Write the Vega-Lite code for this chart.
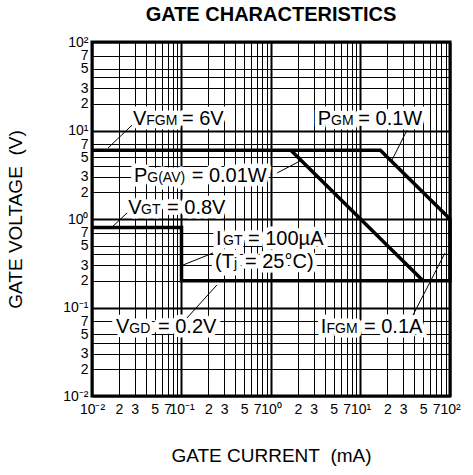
{
  "$schema": "https://vega.github.io/schema/vega-lite/v6.json",
  "width": 358,
  "height": 354,
  "autosize": "none",
  "padding": {"left": 92, "top": 42, "right": 23, "bottom": 79},
  "background": "white",
  "view": {"stroke": "black", "strokeWidth": 3},
  "config": {
    "font": "Liberation Sans",
    "axis": {
      "labelFont": "Liberation Sans",
      "labelFontSize": 14,
      "labelColor": "black",
      "titleFont": "Liberation Sans",
      "titleFontSize": 19,
      "titleFontWeight": "normal",
      "titleColor": "black",
      "domain": false,
      "ticks": false,
      "grid": true,
      "gridColor": "black",
      "gridOpacity": 1,
      "labelOverlap": false,
      "labelFlush": false
    }
  },
  "title": {
    "text": "GATE CHARACTERISTICS",
    "font": "Liberation Sans",
    "fontSize": 20,
    "fontWeight": "bold",
    "color": "black",
    "frame": "group",
    "baseline": "bottom",
    "offset": 15,
    "dy": 25,
    "anchor": "middle"
  },
  "datasets": {
    "limits": [
      {"curve": "outline", "i": 0, "I": 0.01, "V": 6},
      {"curve": "outline", "i": 1, "I": 16.667, "V": 6},
      {"curve": "outline", "i": 2, "I": 100, "V": 1},
      {"curve": "outline", "i": 3, "I": 100, "V": 0.2},
      {"curve": "outline", "i": 4, "I": 0.1, "V": 0.2},
      {"curve": "outline", "i": 5, "I": 0.1, "V": 0.8},
      {"curve": "outline", "i": 6, "I": 0.01, "V": 0.8},
      {"curve": "PG(AV)", "i": 0, "I": 1.6667, "V": 6},
      {"curve": "PG(AV)", "i": 1, "I": 50, "V": 0.2}
    ],
    "labelMain": [
      {"t": "V", "I": 0.02871, "V": 11.54},
      {"t": "= 6V", "I": 0.1013, "V": 11.54},
      {"t": "P", "I": 0.02946, "V": 2.619},
      {"t": "= 0.01W", "I": 0.13, "V": 2.619},
      {"t": "P", "I": 3.325, "V": 11.54},
      {"t": "= 0.1W", "I": 9.45, "V": 11.54},
      {"t": "V", "I": 0.02544, "V": 1.139},
      {"t": "= 0.8V", "I": 0.0689, "V": 1.139},
      {"t": "I", "I": 0.2429, "V": 0.5085},
      {"t": "= 100µA", "I": 0.5534, "V": 0.5085},
      {"t": "(T", "I": 0.2367, "V": 0.2759},
      {"t": "= 25°C)", "I": 0.5124, "V": 0.2759},
      {"t": "V", "I": 0.01854, "V": 0.05151},
      {"t": "= 0.2V", "I": 0.05463, "V": 0.05151},
      {"t": "I", "I": 3.592, "V": 0.05151},
      {"t": "= 0.1A", "I": 10.94, "V": 0.05151}
    ],
    "labelSub": [
      {"t": "FGM", "I": 0.04043, "V": 11.54},
      {"t": "G(AV)", "I": 0.04148, "V": 2.619},
      {"t": "GM", "I": 4.681, "V": 11.54},
      {"t": "GT", "I": 0.03527, "V": 1.139},
      {"t": "GT", "I": 0.2909, "V": 0.5085},
      {"t": "j", "I": 0.3861, "V": 0.2759},
      {"t": "GD", "I": 0.0261, "V": 0.05151},
      {"t": "FGM", "I": 4.17, "V": 0.05151}
    ],
    "leaders": [
      {"I": 0.028, "V": 11.5, "I2": 0.0151, "V2": 6.34},
      {"I": 1.17, "V": 3.31, "I2": 2.11, "V2": 4.52},
      {"I": 33.1, "V": 10.1, "I2": 22.5, "V2": 4.64},
      {"I": 0.0246, "V": 1.17, "I2": 0.0159, "V2": 0.77},
      {"I": 0.225, "V": 0.413, "I2": 0.104, "V2": 0.302},
      {"I": 0.115, "V": 0.076, "I2": 0.249, "V2": 0.18},
      {"I": 38.6, "V": 0.082, "I2": 87.9, "V2": 0.413}
    ]
  },
  "layer": [
    {
      "data": {"name": "limits"},
      "mark": {"type": "line", "color": "black", "strokeWidth": 3.5, "strokeJoin": "miter", "strokeCap": "butt"},
      "encoding": {
        "x": {
          "field": "I", "type": "quantitative",
          "scale": {"type": "log", "domain": [0.01, 100], "nice": false},
          "axis": {
            "title": "GATE CURRENT\u00a0 (mA)",
            "titlePadding": 30,
            "labelPadding": 6,
            "labelAlign": "center",
            "values": [0.01,0.02,0.03,0.04,0.05,0.06,0.07,0.08,0.09,0.1,0.2,0.3,0.4,0.5,0.6,0.7,0.8,0.9,1,2,3,4,5,6,7,8,9,10,20,30,40,50,60,70,80,90,100],
            "gridWidth": {"condition": {"test": "abs(log(datum.value)/LN10 - round(log(datum.value)/LN10)) < 0.001", "value": 2}, "value": 1},
            "labelExpr": "round(datum.value/pow(10,floor(log(datum.value)/LN10+0.0001)))==1 ? ('10' + ['⁻²','⁻¹','⁰','¹','²'][floor(log(datum.value)/LN10+0.0001)+2]) : (indexof([2,3,5,7], round(datum.value/pow(10,floor(log(datum.value)/LN10+0.0001))))>=0 ? ''+round(datum.value/pow(10,floor(log(datum.value)/LN10+0.0001))) : '')"
          }
        },
        "y": {
          "field": "V", "type": "quantitative",
          "scale": {"type": "log", "domain": [0.01, 100], "nice": false},
          "axis": {
            "title": "GATE VOLTAGE\u00a0 (V)",
            "titlePadding": 37,
            "labelPadding": 4,
            "values": [0.01,0.02,0.03,0.04,0.05,0.07,0.1,0.2,0.3,0.4,0.5,0.7,1,2,3,4,5,7,10,20,30,40,50,70,100],
            "gridWidth": {"condition": {"test": "abs(log(datum.value)/LN10 - round(log(datum.value)/LN10)) < 0.001", "value": 2}, "value": 1},
            "labelExpr": "round(datum.value/pow(10,floor(log(datum.value)/LN10+0.0001)))==1 ? ('10' + ['⁻²','⁻¹','⁰','¹','²'][floor(log(datum.value)/LN10+0.0001)+2]) : (indexof([2,3,5,7], round(datum.value/pow(10,floor(log(datum.value)/LN10+0.0001))))>=0 ? ''+round(datum.value/pow(10,floor(log(datum.value)/LN10+0.0001))) : '')"
          }
        },
        "detail": {"field": "curve"},
        "order": {"field": "i", "type": "quantitative"}
      }
    },
    {
      "data": {"name": "labelMain"},
      "mark": {"type": "text", "font": "Liberation Sans", "fontSize": 20, "align": "left", "baseline": "alphabetic", "stroke": "white", "strokeWidth": 9, "strokeJoin": "round", "fill": "white"},
      "encoding": {"x": {"field": "I", "type": "quantitative"}, "y": {"field": "V", "type": "quantitative"}, "text": {"field": "t"}}
    },
    {
      "data": {"name": "labelSub"},
      "mark": {"type": "text", "font": "Liberation Sans", "fontSize": 14, "align": "left", "baseline": "alphabetic", "stroke": "white", "strokeWidth": 9, "strokeJoin": "round", "fill": "white"},
      "encoding": {"x": {"field": "I", "type": "quantitative"}, "y": {"field": "V", "type": "quantitative"}, "text": {"field": "t"}}
    },
    {
      "data": {"name": "leaders"},
      "mark": {"type": "rule", "color": "black", "strokeWidth": 1},
      "encoding": {
        "x": {"field": "I", "type": "quantitative"},
        "y": {"field": "V", "type": "quantitative"},
        "x2": {"field": "I2"},
        "y2": {"field": "V2"}
      }
    },
    {
      "data": {"name": "labelMain"},
      "mark": {"type": "text", "font": "Liberation Sans", "fontSize": 20, "align": "left", "baseline": "alphabetic", "fill": "black"},
      "encoding": {"x": {"field": "I", "type": "quantitative"}, "y": {"field": "V", "type": "quantitative"}, "text": {"field": "t"}}
    },
    {
      "data": {"name": "labelSub"},
      "mark": {"type": "text", "font": "Liberation Sans", "fontSize": 14, "align": "left", "baseline": "alphabetic", "fill": "black"},
      "encoding": {"x": {"field": "I", "type": "quantitative"}, "y": {"field": "V", "type": "quantitative"}, "text": {"field": "t"}}
    }
  ]
}
